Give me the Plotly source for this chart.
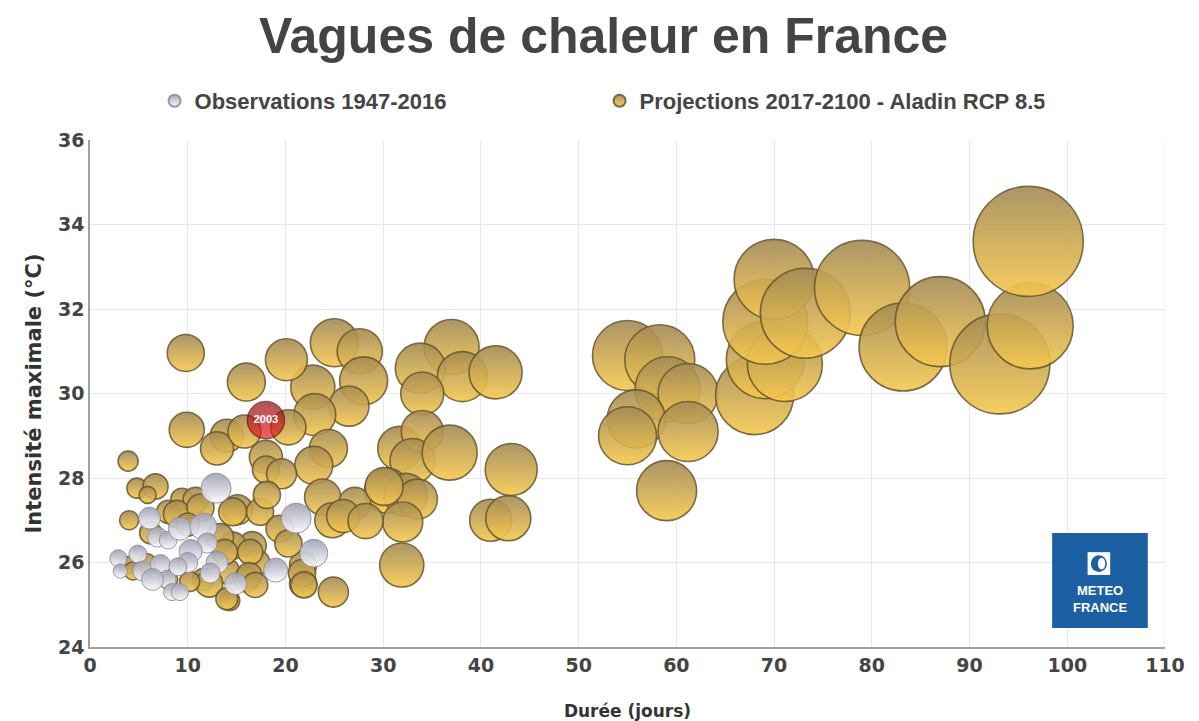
import plotly.graph_objects as go

# ---- Data ----
# Observations 1947-2016 : durée (jours), intensité max (°C), sévérité (taille relative)
obs_duree = [12.9, 21.1, 22.9, 19.0, 14.9, 13.0, 2.9, 3.1, 4.9, 6.9, 8.0, 9.2, 11.6, 12.0,
             10.3, 5.4, 7.2, 7.9, 6.4, 8.4, 9.2, 12.3, 6.1, 10.0, 9.0]
obs_intensite = [27.76, 27.05, 26.22, 25.82, 25.5, 26.0, 26.1, 25.8, 26.2, 26.6, 26.53, 26.8,
                 26.85, 26.46, 26.27, 25.8, 25.95, 25.6, 25.6, 25.3, 25.3, 25.75, 27.05, 26.0, 25.9]
obs_severite = [9.0, 9.0, 7.8, 5.8, 4.8, 4.8, 2.9, 2.0, 3.2, 4.0, 3.2, 5.3, 7.3, 4.0,
                5.3, 4.0, 4.0, 3.2, 4.8, 2.9, 2.9, 4.0, 4.8, 4.0, 3.2]

# Canicule 2003
an2003_duree = [18.0]
an2003_intensite = [29.37]
an2003_severite = [13.7]
an2003_label = ["2003"]

# Projections 2017-2100 - Aladin RCP 8.5
proj_duree = [
    55.0, 58.3, 59.1, 61.2, 55.9, 55.0, 61.2, 59.0, 68.0, 69.1, 71.1, 69.1, 70.0, 73.2,
    79.0, 83.2, 87.0, 93.1, 96.2, 96.0,
    37.0, 33.8, 38.1, 41.5, 34.0, 31.7, 34.0, 33.0, 36.8, 43.1, 30.4, 32.3, 33.5, 32.0,
    41.0, 42.8, 25.0, 27.6, 28.0, 22.8, 20.1, 26.5, 23.0, 24.4, 22.9, 23.8, 27.1, 24.8,
    25.9, 28.2, 30.1, 31.9, 21.8, 21.8, 24.9,
    9.8, 16.0, 9.9, 14.0, 13.0, 15.8, 20.3, 18.0, 18.0, 19.6, 3.9, 4.8, 6.7, 5.9, 9.4,
    10.8, 8.0, 4.0, 8.9, 11.3, 15.1, 14.6, 17.4, 18.1, 19.4, 16.6, 14.6, 17.1, 14.0,
    14.3, 16.0, 11.6, 3.9, 13.3, 13.8, 16.4, 20.3, 21.7, 16.3, 12.2, 14.0, 21.9, 16.9,
    6.2, 10.0, 4.4, 8.0, 10.2, 5.8,
]
proj_intensite = [
    30.9, 30.8, 30.1, 30.0, 29.4, 29.0, 29.1, 27.7, 29.95, 30.8, 30.7, 31.7, 32.7, 31.9,
    32.5, 31.1, 31.7, 30.7, 31.6, 33.6,
    31.1, 30.6, 30.4, 30.5, 30.0, 28.7, 29.1, 28.4, 28.6, 28.2, 27.7, 27.6, 27.5, 26.96,
    27.0, 27.05, 31.2, 31.0, 30.3, 30.15, 30.8, 29.7, 29.5, 28.7, 28.3, 27.55, 27.4, 27.0,
    27.1, 26.98, 27.8, 25.94, 25.94, 25.5, 25.3,
    30.96, 30.27, 29.14, 29.0, 28.7, 29.1, 29.2, 28.5, 28.2, 28.1, 28.4, 27.76, 27.8, 27.6, 27.5,
    27.48, 27.2, 27.0, 27.15, 27.3, 27.25, 27.2, 27.2, 27.6, 26.8, 26.4, 26.4, 26.0, 25.8,
    25.1, 25.6, 25.6, 25.94, 26.6, 26.25, 26.25, 26.45, 25.75, 25.7, 25.5, 25.14, 25.47, 25.47,
    26.7, 26.9, 25.8, 25.6, 25.55, 26.0,
]
proj_severite = [
    49.0, 49.0, 42.3, 36.0, 33.6, 33.6, 36.0, 36.0, 60.8, 60.8, 56.3, 72.3, 64.0, 81.0,
    90.3, 77.4, 81.0, 100.0, 74.0, 121.0,
    30.3, 25.0, 25.0, 28.1, 18.5, 19.4, 17.6, 20.3, 30.3, 27.0, 20.3, 18.5, 16.0, 16.0,
    17.6, 20.3, 23.0, 20.3, 23.0, 19.4, 17.6, 16.0, 17.6, 14.4, 14.4, 13.0, 10.2, 12.3,
    10.9, 12.3, 14.4, 19.4, 7.3, 7.3, 9.0,
    13.7, 14.4, 12.3, 10.9, 10.9, 10.9, 12.3, 10.9, 7.3, 9.0, 4.0, 4.0, 6.3, 2.9, 4.8,
    6.3, 5.3, 3.6, 7.3, 7.3, 9.0, 7.8, 7.3, 7.3, 7.3, 7.8, 7.3, 6.3, 6.3,
    4.0, 6.3, 4.8, 2.9, 7.3, 6.3, 6.3, 7.3, 7.3, 6.3, 7.3, 4.8, 6.8, 6.3,
    4.8, 5.3, 3.2, 3.6, 4.0, 3.2,
]

nom_obs = "Observations 1947-2016"
nom_proj = "Projections 2017-2100 - Aladin RCP 8.5"
titre = "Vagues de chaleur en France"
titre_x = "Durée (jours)"
titre_y = "Intensité maximale (°C)"

SIZEREF = 0.02
TXT = "#444444"

fig = go.Figure()

fig.add_trace(go.Scatter(
    x=proj_duree, y=proj_intensite, mode="markers", name=nom_proj, legendrank=2,
    marker=dict(size=proj_severite, sizemode="area", sizeref=SIZEREF,
                color="#a38a56", opacity=0.9,
                gradient=dict(type="vertical", color="#f7c94f"),
                line=dict(color="#6b5a2e", width=1.6)),
    hoverinfo="x+y",
))
fig.add_trace(go.Scatter(
    x=obs_duree, y=obs_intensite, mode="markers", name=nom_obs, legendrank=1,
    marker=dict(size=obs_severite, sizemode="area", sizeref=SIZEREF,
                color="#9fa1b3", opacity=0.92,
                gradient=dict(type="vertical", color="#fbfbff"),
                line=dict(color="#8e8e96", width=1)),
    hoverinfo="x+y",
))
fig.add_trace(go.Scatter(
    x=an2003_duree, y=an2003_intensite, mode="markers+text", text=an2003_label,
    textposition="middle center", showlegend=False,
    textfont=dict(color="white", size=11, family="Liberation Sans", weight="bold"),
    marker=dict(size=an2003_severite, sizemode="area", sizeref=SIZEREF,
                color="#8c0c10",
                gradient=dict(type="vertical", color="#ec1c24"),
                line=dict(color="#5a0a0a", width=1.5)),
    hoverinfo="x+y",
))

# Logo Météo-France
shapes = [
    dict(type="rect", xref="paper", yref="paper", x0=0.895, x1=0.984, y0=0.0375, y1=0.225,
         fillcolor="#1d5fa3", line=dict(width=0), layer="above"),
    dict(type="rect", xref="paper", yref="paper", x0=0.928, x1=0.949, y0=0.142, y1=0.187,
         fillcolor="white", line=dict(width=0), layer="above"),
    dict(type="circle", xref="paper", yref="paper", x0=0.931, x1=0.946, y0=0.148, y1=0.181,
         fillcolor="#1d5fa3", line=dict(width=0), layer="above"),
    dict(type="circle", xref="paper", yref="paper", x0=0.9375, x1=0.9445, y0=0.153, y1=0.176,
         fillcolor="white", line=dict(width=0), layer="above"),
    dict(type="line", xref="x", yref="paper", x0=110, x1=110, y0=0, y1=1,
         line=dict(color="#e8e8ec", width=1), layer="below"),
]
annotations = [
    dict(text="<b>METEO<br>FRANCE</b>", xref="paper", yref="paper", x=0.9395, y=0.094,
         showarrow=False, font=dict(color="white", size=13, family="Liberation Sans"),
         align="center", xanchor="center", yanchor="middle"),
]

fig.update_layout(
    width=1191, height=713,
    paper_bgcolor="white", plot_bgcolor="white",
    margin=dict(l=82, r=34, t=132, b=74),
    title=dict(text="<b>" + titre + "</b>", x=0.5, xanchor="center", y=0.962, yanchor="middle",
               font=dict(family="Liberation Sans", size=50, color=TXT)),
    legend=dict(orientation="h", x=0.474, xanchor="center", y=1.077, yanchor="middle",
                font=dict(family="Liberation Sans", size=22, color=TXT, weight="bold"),
                itemsizing="constant", entrywidth=400, bgcolor="rgba(0,0,0,0)"),
    xaxis=dict(range=[0, 110], dtick=10, tick0=0, showgrid=True, gridcolor="#e8e8ec",
               showline=True, linecolor="#a0a0a0", linewidth=1.5, zeroline=False,
               ticks="", automargin=False,
               tickfont=dict(family="DejaVu Sans", size=19, color=TXT, weight="bold"),
               title=dict(text="<b>" + titre_x + "</b>", standoff=34,
                          font=dict(family="DejaVu Sans", size=17, color="#333333"))),
    yaxis=dict(range=[24, 36], dtick=2, tick0=24, showgrid=True, gridcolor="#e8e8ec",
               showline=True, linecolor="#a0a0a0", linewidth=1.5, zeroline=False,
               ticks="", automargin=False,
               tickfont=dict(family="DejaVu Sans", size=19, color=TXT, weight="bold"),
               title=dict(text="<b>" + titre_y + "</b>", standoff=11,
                          font=dict(family="DejaVu Sans", size=21, color="#333333"))),
    shapes=shapes, annotations=annotations,
)

fig.write_html("out.html")
